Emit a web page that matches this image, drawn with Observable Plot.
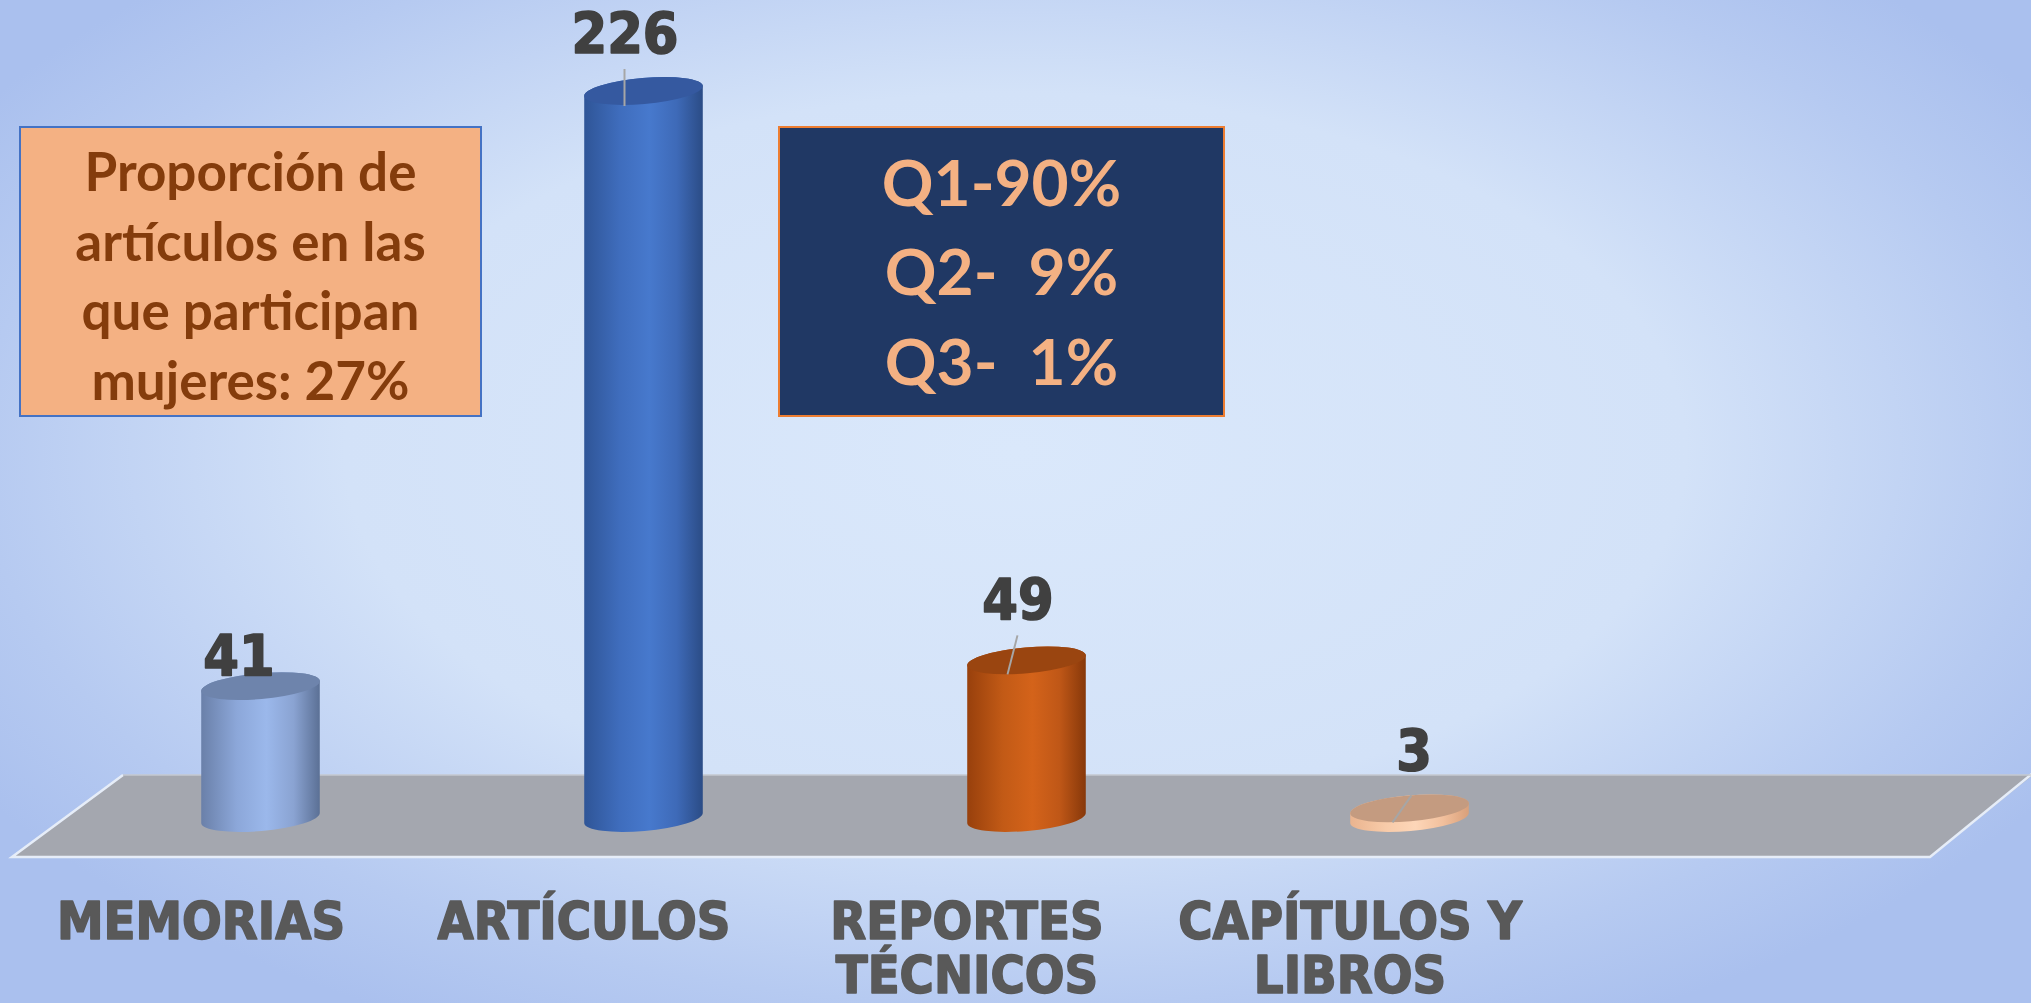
<!DOCTYPE html>
<html>
<head>
<meta charset="utf-8">
<script src="https://cdn.jsdelivr.net/npm/d3@7"></script>
<script src="https://cdn.jsdelivr.net/npm/@observablehq/plot@0.6"></script>
<style>
  html, body { margin: 0; padding: 0; }
  body {
    width: 2031px; height: 1003px; overflow: hidden;
    background: radial-gradient(ellipse 60% 65% at 50% 45%, #dae8fb 0%, #d3e2f8 55%, #b6caf1 85%, #aac0ee 100%);
  }
  #wrap { position: relative; width: 2031px; height: 1003px; }
  #wrap svg { position: absolute; left: 0; top: 0; }
  .box { position: absolute; box-sizing: border-box; }
  .box .txt { position: absolute; left: 0; right: 0; text-align: center; white-space: pre; font-family: Lato, "Open Sans", sans-serif; font-weight: bold; }
  #boxA { left: 19px; top: 126px; width: 463px; height: 291px; background: #f4b183; border: 2.5px solid #4472c4; }
  #boxA .txt { top: 8px; font-size: 53px; line-height: 69.5px; color: #843c0c; }
  #boxB { left: 778px; top: 126px; width: 447px; height: 291px; background: #203864; border: 2px solid #ed7d31; }
  #boxB .txt { top: 8.5px; font-size: 64px; line-height: 89.5px; color: #f4b183; }
</style>
</head>
<body>
<div id="wrap"></div>
<script>
// ---- data ----
const categories = ["MEMORIAS", "ARTÍCULOS", "REPORTES TÉCNICOS", "CAPÍTULOS Y LIBROS"];
const tickLabels = ["MEMORIAS", "ARTÍCULOS", "REPORTES\nTÉCNICOS", "CAPÍTULOS Y\nLIBROS"];
const values = [41, 226, 49, 3];
const noteText = "Proporción de\nartículos en las\nque participan\nmujeres: 27%";
const quartileText = "Q1-90%\nQ2-  9%\nQ3-  1%";

// ---- styles ----
const bodyStops = [
  ["#6a80a9", "#8ca7d9", "#9bb8eb", "#8aa3d2", "#5b7095"],
  ["#2f5597", "#3f6dbd", "#4779cd", "#3e6ab8", "#2b4c86"],
  ["#98400c", "#c25a16", "#d4631a", "#bf5717", "#87380a"],
  ["#eab48f", "#f8cba9", "#fdd6b8", "#f2c09d", "#d9a07a"]
];
const capColors = ["#6e84ac", "#3559a0", "#9a4510", "#c49b80"];
const font = "'DejaVu Sans Condensed', 'DejaVu Sans', sans-serif";

const rows = categories.map((c, i) => ({category: c, value: values[i], label: tickLabels[i]}));

// custom mark: floor + 3D cylinders, positioned with Plot's scales
function cylinders(index, scales, channels, dims) {
  const {x, y} = scales;
  const bw = x.bandwidth ? x.bandwidth() : 0;
  const g = d3.create("svg:g");
  const W = dims.width;
  const y0 = y(0);
  // floor
  const yT = y0 - 43, yB = y0 + 39;
  g.append("path")
    .attr("d", `M123,${yT}L${W + 2},${yT}L${W - 101},${yB}L12,${yB}Z`)
    .attr("fill", "#a4a7af");
  g.append("path")
    .attr("d", `M123,${yT}L12,${yB}L${W - 101},${yB}L${W + 2},${yT - 2}`)
    .attr("fill", "none").attr("stroke", "#e6edf8").attr("stroke-width", 2.5);
  g.append("path")
    .attr("d", `M123,${yT}L${W},${yT}`)
    .attr("fill", "none").attr("stroke", "#c4c8d0").attr("stroke-width", 1.5);

  const defs = g.append("defs");
  const a = 59.5, b = 13, phi = -5;
  const rad = phi * Math.PI / 180;
  const ex = a * Math.cos(rad), ey = a * Math.sin(rad);
  rows.forEach((d, i) => {
    const grad = defs.append("linearGradient").attr("id", "cyl" + i)
      .attr("x1", 0).attr("x2", 1).attr("y1", 0).attr("y2", 0);
    const offs = [0, 0.3, 0.55, 0.78, 1];
    bodyStops[i].forEach((c, k) => grad.append("stop").attr("offset", offs[k]).attr("stop-color", c));
    const cx = x(d.category) + bw / 2;
    const yt = y(d.value);
    const yb = y0;
    const p = `M${cx - ex},${yt - ey}L${cx - ex},${yb - ey}` +
      `A${a},${b} ${phi} 0 0 ${cx + ex},${yb + ey}` +
      `L${cx + ex},${yt + ey}` +
      `A${a},${b} ${phi} 0 0 ${cx - ex},${yt - ey}Z`;
    g.append("path").attr("d", p).attr("fill", `url(#cyl${i})`);
    g.append("ellipse")
      .attr("cx", cx).attr("cy", yt).attr("rx", a).attr("ry", b)
      .attr("transform", `rotate(${phi},${cx},${yt})`)
      .attr("fill", capColors[i]);
  });
  // leader lines for labels placed away from the cap
  const leaders = [[1, -19, -22, -19, 15], [2, -9, -25, -19, 14], [3, 2, -13, -17, 14]];
  leaders.forEach(([i, dx1, dy1, dx2, dy2]) => {
    const d = rows[i];
    const cx = x(d.category) + bw / 2;
    const yt = y(d.value);
    g.append("line")
      .attr("x1", cx + dx1).attr("y1", yt + dy1)
      .attr("x2", cx + dx2).attr("y2", yt + dy2)
      .attr("stroke", "#a6a6a6").attr("stroke-width", 2);
  });
  return g.node();
}

const valueLabel = (i, dx, dy) => Plot.text([rows[i]], {
  x: "category", y: "value", text: d => String(d.value),
  dx, dy, lineAnchor: "bottom", textAnchor: "middle",
  fontSize: 57, fontWeight: "bold", fontFamily: font,
  fill: "#404040", stroke: "#404040", strokeWidth: 1.6
});

const chart = Plot.plot({
  width: 2031,
  height: 1003,
  margin: 0,
  style: {background: "transparent", overflow: "visible"},
  x: {type: "band", domain: categories, range: [67, 1602], padding: 0, axis: null},
  y: {domain: [0, 226], range: [818, 91], axis: null},
  marks: [
    cylinders,
    valueLabel(0, -22, -11),
    valueLabel(1, -19, -38),
    valueLabel(2, -9, -41),
    valueLabel(3, 4, -38),
    Plot.text(rows, {
      x: "category", y: () => 0, text: "label",
      dx: -60, dy: 82, lineAnchor: "top", lineHeight: 1.04, textAnchor: "middle",
      fontSize: 52, fontWeight: "bold", fontFamily: font,
      fill: "#595959", stroke: "#595959", strokeWidth: 1.6
    })
  ]
});

const wrap = document.getElementById("wrap");
wrap.appendChild(chart);

function addBox(id, text) {
  const box = document.createElement("div");
  box.className = "box"; box.id = id;
  const t = document.createElement("div");
  t.className = "txt"; t.textContent = text;
  box.appendChild(t);
  wrap.appendChild(box);
}
addBox("boxA", noteText);
addBox("boxB", quartileText);
</script>
</body>
</html>
